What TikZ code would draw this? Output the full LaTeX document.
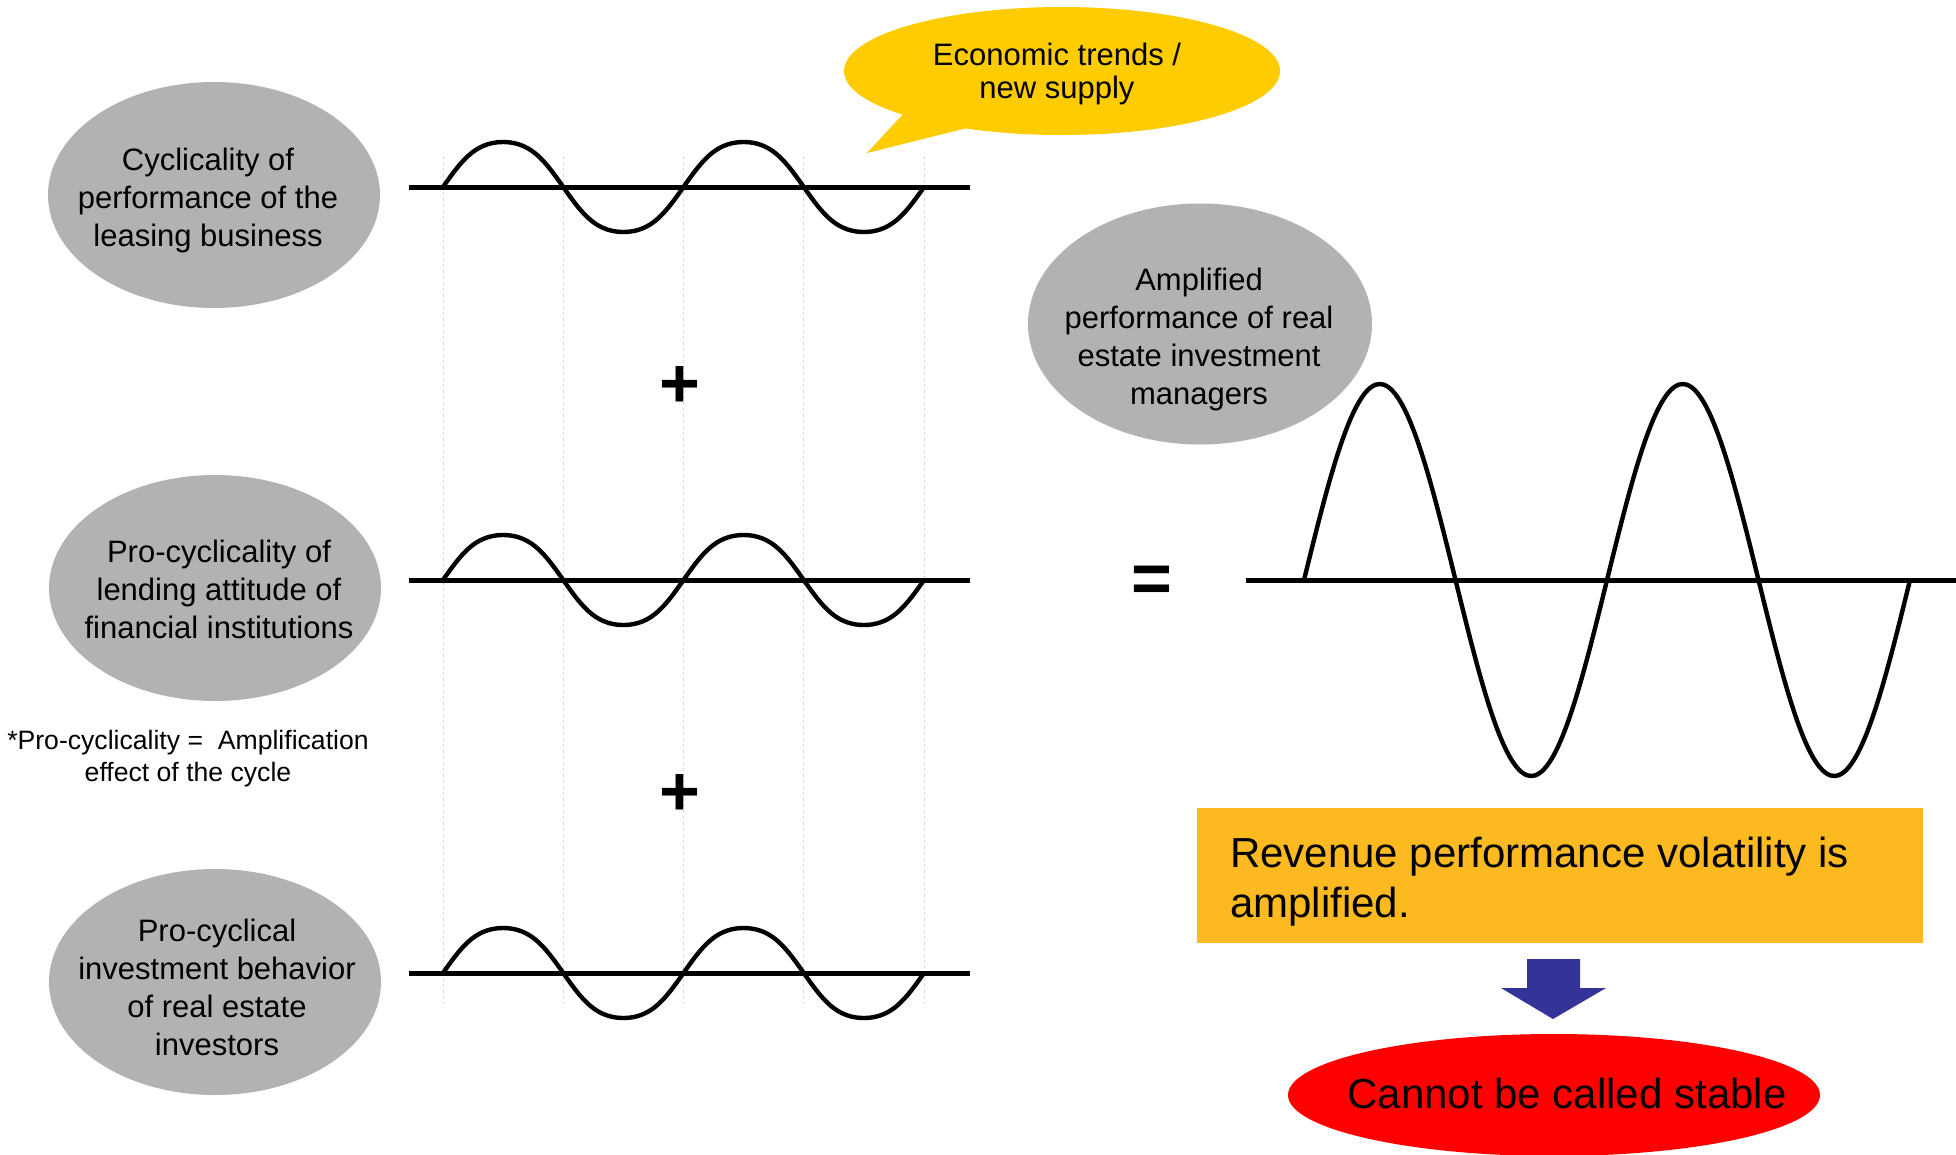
\documentclass[tikz,border=0pt]{standalone}
\usepackage{fontspec}
\setmainfont{Liberation Sans}
\usetikzlibrary{shapes.geometric}
\definecolor{ellgray}{HTML}{B2B2B2}
\definecolor{bubbleyellow}{HTML}{FFCC00}
\definecolor{boxorange}{HTML}{FDB920}
\definecolor{stopred}{HTML}{FF0000}
\definecolor{arrowblue}{HTML}{333399}
\definecolor{guidegray}{HTML}{D9D9D9}
\tikzset{
  grayell/.style={ellipse, fill=ellgray, draw=none, inner sep=0pt},
  elltext/.style={align=center, inner sep=0pt, font=\fontsize{31}{38}\selectfont},
  axisline/.style={line width=5pt},
  wave/.style={line width=4.4pt, line join=round},
  guide/.style={guidegray, line width=1pt, dashed},
  opsign/.style={inner sep=0pt, font=\fontsize{70}{70}\selectfont\bfseries}
}
\begin{document}
\begin{tikzpicture}[x=1pt,y=-1pt]
\useasboundingbox (0,0) rectangle (1956,1154);
\fill[white] (0,0) rectangle (1956,1154);

% guide lines
\foreach \gx/\gn in {443/g1,563.25/g2,683.5/g3,803.75/g4,924/g5}{
  \coordinate (\gn top) at (\gx,156);
  \coordinate (\gn bot) at (\gx,1004);
  \draw[guide] (\gn top) -- (\gn bot);
}

% left ellipses
\node[grayell, minimum width=332pt, minimum height=226pt] (e1) at (214,195) {};
\node[elltext] (t1) at (208,200) {Cyclicality of\\performance of the\\leasing business};
\node[grayell, minimum width=332pt, minimum height=226pt] (e2) at (215,588) {};
\node[elltext] (t2) at (219,589) {Pro-cyclicality of\\lending attitude of\\financial institutions};
\node[grayell, minimum width=332pt, minimum height=226pt] (e3) at (215,982) {};
\node[elltext] (t3) at (217,987) {Pro-cyclical\\investment behavior\\of real estate\\investors};

% footnote
\node[align=center, inner sep=0pt, font=\fontsize{26.6}{32}\selectfont] (note) at (188,759) {*Pro-cyclicality =\ \ Amplification\\effect of the cycle};

% speech bubble
\node[ellipse, fill=bubbleyellow, inner sep=0pt, minimum width=436pt, minimum height=128pt] (bubble) at (1062,71) {};
\coordinate (tailtip) at (867,153);
\fill[bubbleyellow] (905,112) -- (tailtip) -- (975,126) -- cycle;
\node[align=center, inner sep=0pt, font=\fontsize{31}{33}\selectfont] (bubbletext) at (1057,74) {Economic trends /\\new supply};

% small waves
\foreach \ay/\wn in {187/w1,580/w2,973/w3}{
  \coordinate (\wn L) at (409,\ay);
  \coordinate (\wn R) at (970,\ay);
  \draw[axisline] (\wn L) -- (\wn R);
  \draw[wave] plot[domain=0:4, samples=121, smooth] ({443+120.25*\x},{\ay-45*(sin(180*\x)+sin(540*\x)/20)/0.95});
}

% operators
\node[opsign] (plus1) at (680,387) {+};
\node[opsign] (plus2) at (680,795) {+};
\node[opsign] (equals) at (1152,584) {=};

% amplified ellipse
\node[grayell, minimum width=344pt, minimum height=241pt] (e4) at (1200,324) {};
\node[elltext] (t4) at (1199,339) {Amplified\\performance of real\\estate investment\\managers};

% big wave
\coordinate (bigL) at (1246,580);
\coordinate (bigR) at (1956,580);
\draw[axisline] (bigL) -- (bigR);
\draw[wave] plot[domain=0:4, samples=161, smooth] ({1304+151.5*\x},{580-196*sin(180*\x)});

% result box
\node[fill=boxorange, minimum width=726pt, minimum height=135pt, inner sep=0pt, anchor=north west] (result) at (1197,808) {};
\node[align=left, inner sep=0pt, anchor=base west, font=\fontsize{42}{50}\selectfont] (resulttext) at (1230,917) {Revenue performance volatility is\\amplified.};

% arrow
\fill[arrowblue] (1527,959) -- (1580,959) -- (1580,988) -- (1606,988) -- (1553,1019) -- (1501,988) -- (1527,988) -- cycle;

% red ellipse
\node[ellipse, fill=stopred, inner sep=0pt, minimum width=532pt, minimum height=122pt] (stop) at (1554,1095) {};
\node[inner sep=0pt, anchor=base, font=\fontsize{42}{50}\selectfont] (stoptext) at (1567,1108) {Cannot be called stable};
\end{tikzpicture}
\end{document}
